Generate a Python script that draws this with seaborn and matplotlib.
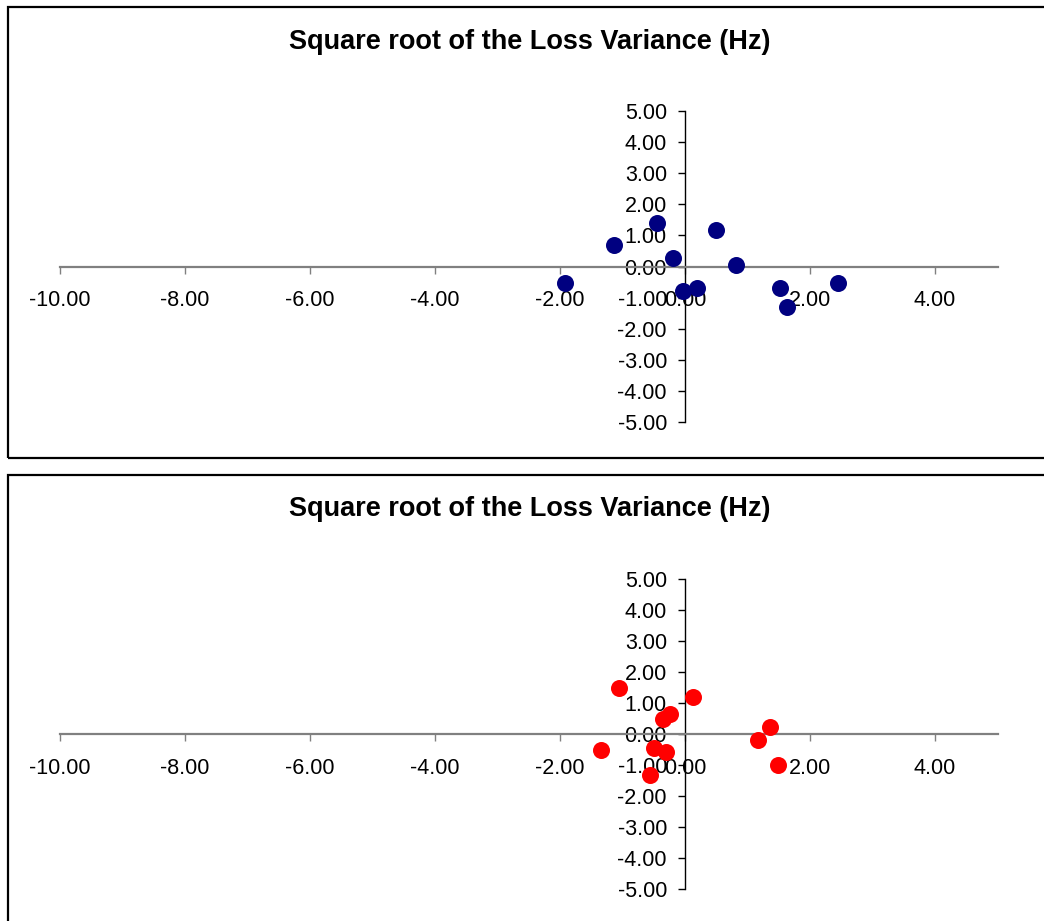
import matplotlib
matplotlib.use("Agg")
import matplotlib.pyplot as plt
from matplotlib.patches import Rectangle
import seaborn as sns
import pandas as pd

sns.set_style("white")
plt.rcParams["font.family"] = ["Liberation Sans", "DejaVu Sans"]

title = "Square root of the Loss Variance (Hz)"

# first data set (navy)
x_a = [-1.92, -1.13, -0.45, -0.20, -0.04, 0.19, 0.49, 0.82, 1.52, 1.63, 2.45]
y_a = [-0.54, 0.68, 1.40, 0.28, -0.80, -0.69, 1.16, 0.05, -0.70, -1.31, -0.54]

# second data set (red)
x_b = [-1.05, -1.35, -0.35, -0.24, 0.13, -0.50, -0.30, -0.56, 1.17, 1.36, 1.48]
y_b = [1.48, -0.51, 0.48, 0.65, 1.20, -0.45, -0.57, -1.32, -0.18, 0.21, -1.00]

x_ticks = [-10, -8, -6, -4, -2, 0, 2, 4]
y_ticks = [-5, -4, -3, -2, -1, 0, 1, 2, 3, 4, 5]

W, H = 1044, 921
fig = plt.figure(figsize=(W / 100, H / 100), dpi=100)
fig.patch.set_facecolor("white")


def px_box(left, top, right, bottom):
    return [left / W, 1 - bottom / H, (right - left) / W, (bottom - top) / H]


def panel(axes_px, frame_px, title_y, xs, ys, color):
    # outer chart frame
    fl, ft, fr, fb = frame_px
    fig.patches.append(Rectangle((fl / W, 1 - fb / H), (fr - fl) / W, (fb - ft) / H,
                                 transform=fig.transFigure, fill=False,
                                 edgecolor="black", linewidth=1.6, zorder=0))
    fig.text(529.5 / W, 1 - title_y / H, title, ha="center", va="center",
             fontsize=19.5, fontweight="bold", color="black")

    ax = fig.add_axes(px_box(*axes_px))
    df = pd.DataFrame({"x": xs, "y": ys})
    sns.scatterplot(data=df, x="x", y="y", ax=ax, color=color, s=150,
                    edgecolor=color, linewidth=0, zorder=3, clip_on=False)
    ax.set_xlim(-10, 5)
    ax.set_ylim(-5, 5)
    ax.set_xlabel("")
    ax.set_ylabel("")
    ax.set_facecolor("none")
    for side in ("top", "right"):
        ax.spines[side].set_visible(False)
    ax.spines["left"].set_position(("data", 0))
    ax.spines["bottom"].set_position(("data", 0))
    ax.spines["left"].set_color("black")
    ax.spines["left"].set_linewidth(1.0)
    ax.spines["bottom"].set_color("#808080")
    ax.spines["bottom"].set_linewidth(1.6)
    ax.set_xticks(x_ticks)
    ax.set_yticks(y_ticks)
    ax.set_xticklabels([f"{v:.2f}" for v in x_ticks])
    ax.set_yticklabels([f"{v:.2f}" for v in y_ticks])
    ax.tick_params(axis="x", direction="out", length=5, width=1.0, color="#808080",
                   labelsize=15.5, labelcolor="black", pad=12, bottom=True)
    ax.tick_params(axis="y", direction="out", length=5, width=1.0, color="black",
                   labelsize=15.5, labelcolor="black", pad=8, left=True)
    ax.grid(False)
    return ax


panel((60, 111, 997.5, 422), (8, 7, 1060, 458), 42, x_a, y_a, "#000080")
panel((60, 579, 997.5, 889), (8, 475, 1060, 940), 509, x_b, y_b, "#FF0000")

fig.savefig("out.png", dpi=100, facecolor="white")
